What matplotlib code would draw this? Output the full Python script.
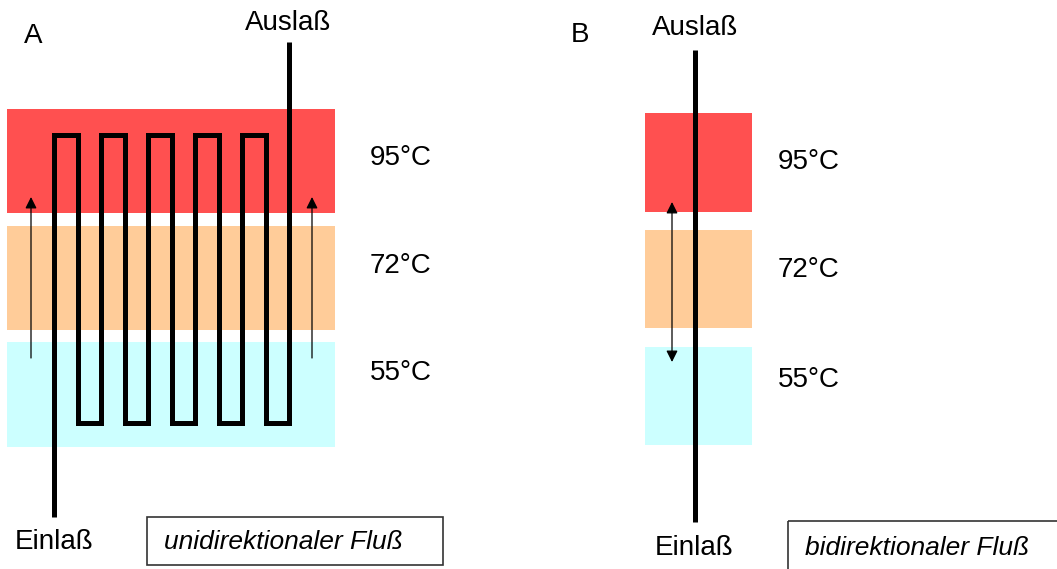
import matplotlib.pyplot as plt
from matplotlib.patches import Rectangle

plt.rcParams['font.family'] = ['Liberation Sans', 'DejaVu Sans']

# temperature bands (label, colour), top to bottom
temps = ['95°C', '72°C', '55°C']
band_colors = ['#ff5050', '#ffcc99', '#ccffff']

# panel A geometry (pixel space of the picture)
bands_a_top = [109, 226, 342]
bands_a_bot = [213, 330, 447]
bands_a_x = (7, 335)
temp_a_x = 370
temp_a_y = [158, 266, 373]

# panel B geometry
bands_b_top = [113, 230, 347]
bands_b_bot = [212, 328, 445]
bands_b_x = (645, 752)
temp_b_x = 778
temp_b_y = [162, 270, 380]

# serpentine channel
n_loops = 5
first_x = 54
pitch = 23.5
loop_top = 135
loop_bot = 423
inlet_y = 517
outlet_y = 42

fig = plt.figure(figsize=(10.57, 5.69), dpi=100)
ax = fig.add_axes([0, 0, 1, 1])
ax.set_xlim(0, 1057)
ax.set_ylim(569, 0)
ax.axis('off')

def draw_bands(tops, bots, xr):
    for t, b, c in zip(tops, bots, band_colors):
        ax.add_patch(Rectangle((xr[0], t), xr[1] - xr[0], b - t, color=c, lw=0))

draw_bands(bands_a_top, bands_a_bot, bands_a_x)
draw_bands(bands_b_top, bands_b_bot, bands_b_x)

for t, y in zip(temps, temp_a_y):
    ax.text(temp_a_x, y, t, fontsize=20, va='center', ha='left')
for t, y in zip(temps, temp_b_y):
    ax.text(temp_b_x, y, t, fontsize=20, va='center', ha='left')

# meander path: up, over, down, over ... last column is the outlet
xs = [first_x, first_x]
ys = [inlet_y, loop_top]
for i in range(1, 2 * n_loops + 1):
    x = first_x + i * pitch
    prev_y = ys[-1]
    xs += [x, x]
    ys += [prev_y, loop_bot if prev_y == loop_top else loop_top]
ys[-1] = outlet_y
ax.plot(xs, ys, color='black', lw=3.6, solid_joinstyle='miter', solid_capstyle='butt')

# thin flow arrows panel A
arrow_kw = dict(arrowstyle='-|>', color='black', lw=0.9, mutation_scale=17, shrinkA=0, shrinkB=0)
for arr_x in [31, 312]:
    ax.annotate('', xy=(arr_x, 197), xytext=(arr_x, 358), arrowprops=arrow_kw)

# panel B straight channel and double arrow
ax.plot([695, 695], [50, 522], color='black', lw=3.6, solid_capstyle='butt')
ax.annotate('', xy=(672, 202), xytext=(672, 362),
            arrowprops=dict(arrowstyle='<|-|>', color='black', lw=0.9, mutation_scale=17,
                            shrinkA=0, shrinkB=0))

# labels
ax.text(33, 36, 'A', fontsize=20, ha='center', va='center')
ax.text(580, 35, 'B', fontsize=20, ha='center', va='center')
ax.text(288, 23, 'Auslaß', fontsize=20, ha='center', va='center')
ax.text(695, 28, 'Auslaß', fontsize=20, ha='center', va='center')
ax.text(54, 542, 'Einlaß', fontsize=20, ha='center', va='center')
ax.text(694, 548, 'Einlaß', fontsize=20, ha='center', va='center')

# caption boxes
ax.add_patch(Rectangle((147, 517), 296, 48, fill=False, ec='#333333', lw=1.2))
ax.text(164, 542, 'unidirektionaler Fluß', fontsize=19, style='italic', ha='left', va='center')
ax.add_patch(Rectangle((788, 521), 300, 60, fill=False, ec='#333333', lw=1.2, clip_on=False))
ax.text(805, 548, 'bidirektionaler Fluß', fontsize=19, style='italic', ha='left', va='center')

fig.savefig('out.png', dpi=100)
